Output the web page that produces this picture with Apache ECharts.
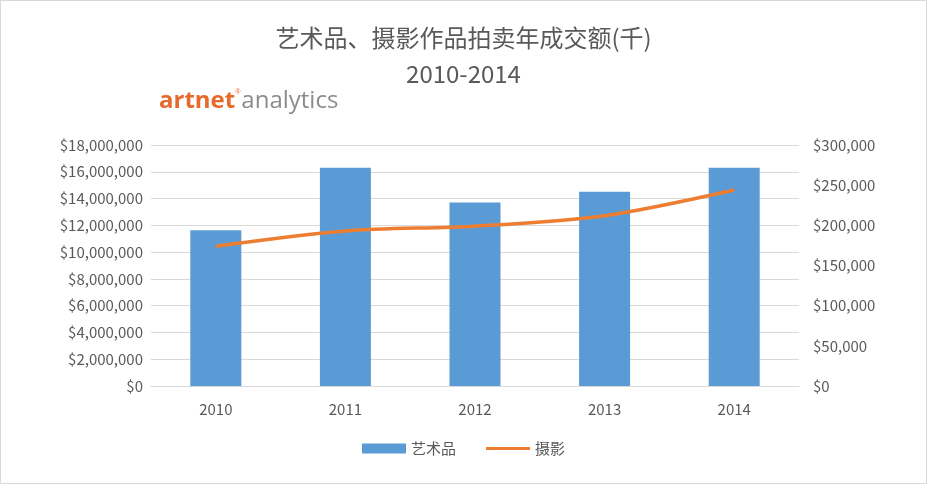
<!DOCTYPE html>
<html><head><meta charset="utf-8">
<script src="https://cdn.jsdelivr.net/npm/echarts@6/dist/echarts.min.js"></script>
<style>html,body{margin:0;padding:0;background:#fff}#c{width:927px;height:484px;box-sizing:border-box;border:1px solid #d9d9d9}</style>
</head><body><div id="c"></div>
<script>
const years = ['2010','2011','2012','2013','2014'];
const artValues = [11630000, 16300000, 13700000, 14500000, 16300000];
const photoValues = [174000, 193000, 199000, 212000, 244000];
const chart = echarts.init(document.getElementById('c'));
const fmt = v => '$' + v.toLocaleString('en-US');
const font = '"Noto Sans CJK SC", Calibri, "Open Sans", sans-serif';
chart.setOption({
  animation:false,
  textStyle:{fontFamily:font},
  title:{text:'艺术品、摄影作品拍卖年成交额(千)\n2010-2014',left:'center',top:14,
    textStyle:{fontSize:24,fontWeight:'normal',color:'#595959',lineHeight:36,fontFamily:font}},
  graphic:[{type:'text',left:158,top:88,style:{
    text:'{a|artnet}{r|®}{b|analytics}',
    rich:{a:{fontSize:24,fontWeight:'bold',fill:'#e8692c',fontFamily:'Open Sans'},
          r:{fontSize:7,fill:'#e8692c',verticalAlign:'top',padding:[0,1,14,0]},
          b:{fontSize:24,fill:'#8c8c8c',fontFamily:'Open Sans'}}}}],
  legend:{bottom:22,left:'center',itemGap:30,itemWidth:44,itemHeight:10,
    textStyle:{fontSize:15,color:'#595959'},
    data:[{name:'艺术品',icon:'rect'},{name:'摄影',icon:'path://M0,4h44v3h-44z'}]},
  grid:{left:150,right:127,top:144,bottom:97},
  xAxis:{type:'category',data:years,axisTick:{show:false},
    axisLine:{lineStyle:{color:'#d9d9d9'}},axisLabel:{fontSize:15,color:'#595959',margin:16}},
  yAxis:[{type:'value',min:0,max:18000000,interval:2000000,
      axisLabel:{formatter:fmt,fontSize:15,color:'#595959'},
      splitLine:{lineStyle:{color:'#d9d9d9'}}},
    {type:'value',min:0,max:300000,interval:50000,
      axisLabel:{formatter:fmt,fontSize:15,color:'#595959',margin:14},splitLine:{show:false}}],
  series:[{name:'艺术品',type:'bar',data:artValues,barWidth:51,itemStyle:{color:'#5b9bd5'}},
    {name:'摄影',type:'line',yAxisIndex:1,data:photoValues,smooth:0.3,symbol:'none',
      lineStyle:{color:'#ed7d31',width:3.5},itemStyle:{color:'#ed7d31'}}]
});
</script></body></html>
